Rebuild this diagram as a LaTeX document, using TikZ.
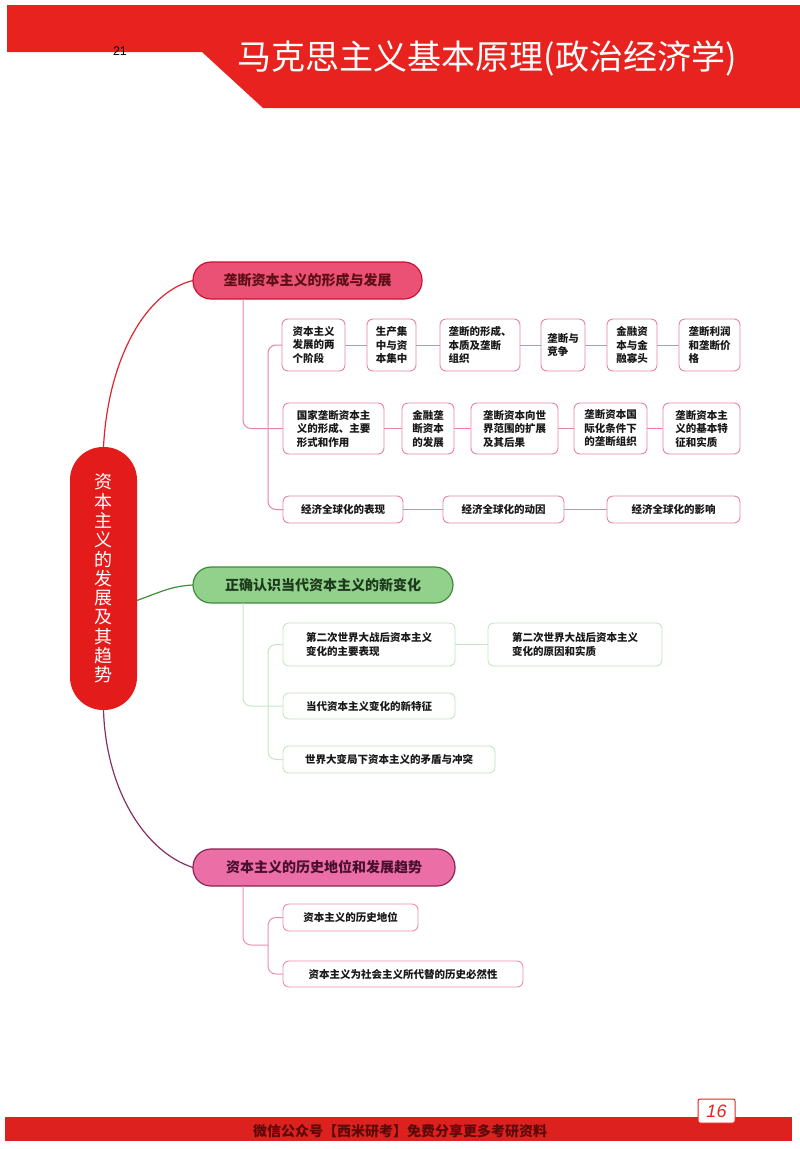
\documentclass[tikz,border=0pt]{standalone}
\usepackage{fontspec}
\setmainfont{Noto Sans CJK SC}
\newfontfamily\latinf{Liberation Sans}
\definecolor{bandred}{HTML}{E8231F}
\definecolor{rootred}{HTML}{E31B1B}
\definecolor{h1fill}{HTML}{EB5175}
\definecolor{h1draw}{HTML}{CC1230}
\definecolor{h1text}{HTML}{5C1015}
\definecolor{h2fill}{HTML}{92D18C}
\definecolor{h2draw}{HTML}{3E8A3A}
\definecolor{h2text}{HTML}{1E3A1C}
\definecolor{h3fill}{HTML}{EC6EA6}
\definecolor{h3draw}{HTML}{8A2452}
\definecolor{h3text}{HTML}{4A1030}
\definecolor{pinkln}{HTML}{E983A3}
\definecolor{greenln}{HTML}{C5E5C3}
\definecolor{pink3ln}{HTML}{EC8FA8}
\definecolor{curvered}{HTML}{E0242E}
\definecolor{curvegreen}{HTML}{3E8E3E}
\definecolor{curvepurple}{HTML}{86305E}
\definecolor{foottext}{HTML}{5A0A0A}
\begin{document}
\begin{tikzpicture}[x=1pt,y=-1pt,
  every node/.style={inner sep=0pt, outer sep=0pt},
  box/.style={fill=white, line width=0.9pt, rounded corners=6pt, align=left,
    font=\fontsize{10.5}{13.5}\selectfont\bfseries, text=black!90},
  boxA/.style={box, draw=pinkln},
  boxB/.style={box, draw=greenln},
  boxC/.style={box, draw=pink3ln},
  lnA/.style={draw=pinkln, line width=1pt},
  lnB/.style={draw=greenln, line width=1pt},
  lnC/.style={draw=pink3ln, line width=1pt},
  hd/.style={line width=1.2pt, font=\fontsize{14}{16}\selectfont\bfseries},
  curve/.style={line width=1.2pt},
]
\useasboundingbox (0,0) rectangle (800,1149);
% header band
\fill[bandred] (7,5) -- (800,5) -- (800,108) -- (263,108) -- (202,52) -- (7,52) -- cycle;
\node[text=black, font=\latinf\fontsize{12.5}{13}\selectfont] (pgno) at (120,51) {21};
\node[text=white, font=\fontsize{34}{36}\selectfont] (title) at (487,58) {马克思主义基本原理(政治经济学)};
% footer
\fill[bandred!95!black] (5,1117) rectangle (792,1141);
\node[text=foottext, font=\fontsize{14}{16}\selectfont\bfseries] (foot) at (400,1131) {微信公众号【西米研考】免费分享更多考研资料};
\node[draw=bandred, fill=white, line width=1pt, rounded corners=2pt, minimum width=37pt, minimum height=24pt,
  text=bandred, font=\latinf\itshape\fontsize{18}{20}\selectfont] (pagebox) at (716.5,1111) {16};
% root
\node[fill=rootred, rounded corners=33pt, minimum width=67pt, minimum height=263pt, align=center,
  text=white, font=\fontsize{18}{19.3}\selectfont] (root) at (103.5,578.5)
  {资\\本\\主\\义\\的\\发\\展\\及\\其\\趋\\势};
% branch headers
\node[hd, fill=h1fill, draw=h1draw, text=h1text, rounded corners=18pt, minimum width=229pt, minimum height=37pt] (h1) at (307.5,280.5) {垄断资本主义的形成与发展};
\node[hd, fill=h2fill, draw=h2draw, text=h2text, rounded corners=18pt, minimum width=260pt, minimum height=36pt] (h2) at (323,585) {正确认识当代资本主义的新变化};
\node[hd, fill=h3fill, draw=h3draw, text=h3text, rounded corners=18pt, minimum width=262pt, minimum height=37pt] (h3) at (324,867.5) {资本主义的历史地位和发展趋势};
% curves from root
\draw[curve, curvered] (root.north) .. controls (108,360) and (145,292) .. (h1.west);
\draw[curve, curvegreen] ([yshift=-22pt]root.east) .. controls (160,592) and (172,586) .. (h2.west);
\draw[curve, curvepurple] (root.south) .. controls (106,790) and (145,852) .. (h3.west);
% guide coordinates
\coordinate (xa) at (243,0);
\coordinate (xb) at (268,0);
% branch 1 boxes
\node[boxA, minimum width=63pt, minimum height=52pt] (r1a) at (313.5,345) {资本主义\\发展的两\\个阶段};
\node[boxA, minimum width=49pt, minimum height=52pt] (r1b) at (391.5,345) {生产集\\中与资\\本集中};
\node[boxA, minimum width=80pt, minimum height=52pt] (r1c) at (480,345) {垄断的形成、\\本质及垄断\\组织};
\node[boxA, minimum width=44pt, minimum height=52pt] (r1d) at (563,345) {垄断与\\竞争};
\node[boxA, minimum width=50pt, minimum height=52pt] (r1e) at (632,345) {金融资\\本与金\\融寡头};
\node[boxA, minimum width=61pt, minimum height=52pt] (r1f) at (709.5,345) {垄断利润\\和垄断价\\格};
\node[boxA, minimum width=101pt, minimum height=51pt] (r2a) at (333.5,428.5) {国家垄断资本主\\义的形成、主要\\形式和作用};
\node[boxA, minimum width=52pt, minimum height=51pt] (r2b) at (428,428.5) {金融垄\\断资本\\的发展};
\node[boxA, minimum width=87pt, minimum height=51pt] (r2c) at (514.5,428.5) {垄断资本向世\\界范围的扩展\\及其后果};
\node[boxA, minimum width=73pt, minimum height=51pt] (r2d) at (610.5,428.5) {垄断资本国\\际化条件下\\的垄断组织};
\node[boxA, minimum width=77pt, minimum height=51pt] (r2e) at (701.5,428.5) {垄断资本主\\义的基本特\\征和实质};
\node[boxA, minimum width=120pt, minimum height=27pt] (r3a) at (343,509.5) {经济全球化的表现};
\node[boxA, minimum width=121pt, minimum height=27pt] (r3b) at (503.5,509.5) {经济全球化的动因};
\node[boxA, minimum width=133pt, minimum height=27pt] (r3c) at (673.5,509.5) {经济全球化的影响};
\draw[lnA] (r1a) -- (r1b); \draw[lnA] (r1b) -- (r1c); \draw[lnA] (r1c) -- (r1d);
\draw[lnA] (r1d) -- (r1e); \draw[lnA] (r1e) -- (r1f);
\draw[lnA] (r2a) -- (r2b); \draw[lnA] (r2b) -- (r2c); \draw[lnA] (r2c) -- (r2d); \draw[lnA] (r2d) -- (r2e);
\draw[lnA] (r3a) -- (r3b); \draw[lnA] (r3b) -- (r3c);
\draw[lnA, rounded corners=8pt] (h1.south -| xa) -- (r2a.west -| xa) -- (r2a.west);
\draw[lnA, rounded corners=8pt] (r1a.west) -- (r1a.west -| xb) -- (r3a.west -| xb) -- (r3a.west);
% branch 2 boxes
\node[boxB, minimum width=172pt, minimum height=43pt] (g1) at (369,644.5) {第二次世界大战后资本主义\\变化的主要表现};
\node[boxB, minimum width=174pt, minimum height=43pt] (g2) at (575,644.5) {第二次世界大战后资本主义\\变化的原因和实质};
\node[boxB, minimum width=172pt, minimum height=26pt] (g3) at (369,706) {当代资本主义变化的新特征};
\node[boxB, minimum width=212pt, minimum height=27pt] (g4) at (389,759.5) {世界大变局下资本主义的矛盾与冲突};
\draw[lnB] (g1) -- (g2);
\draw[lnB, rounded corners=8pt] (h2.south -| xa) -- (g3.west -| xa) -- (g3.west);
\draw[lnB, rounded corners=8pt] (g1.west) -- (g1.west -| xb) -- (g4.west -| xb) -- (g4.west);
% branch 3 boxes
\node[boxC, minimum width=135pt, minimum height=27pt] (c1) at (350.5,917.5) {资本主义的历史地位};
\node[boxC, minimum width=240pt, minimum height=26pt] (c2) at (403,974) {资本主义为社会主义所代替的历史必然性};
\coordinate (cm) at (243,945);
\draw[lnC, rounded corners=8pt] (h3.south -| xa) -- (cm) -- (cm -| xb);
\draw[lnC, rounded corners=8pt] (c1.west) -- (c1.west -| xb) -- (c2.west -| xb) -- (c2.west);
\end{tikzpicture}
\end{document}
